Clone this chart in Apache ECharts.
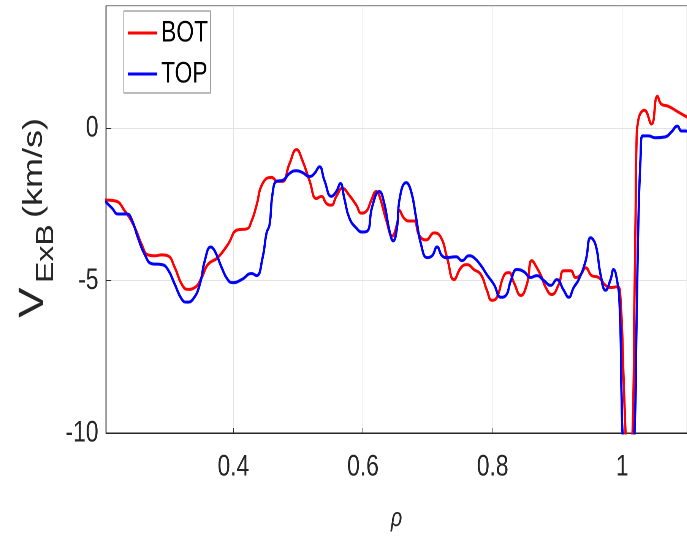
<!DOCTYPE html>
<html>
<head>
<meta charset="utf-8">
<script src="https://cdn.jsdelivr.net/npm/echarts@6/dist/echarts.min.js"></script>
<style>
html,body{margin:0;padding:0;background:#fff;overflow:hidden}
#wrap{width:687px;height:537px;overflow:hidden}
#c{width:904px;height:537px;transform:scaleX(0.76);transform-origin:0 0}
</style>
</head>
<body>
<div id="wrap"><div id="c"></div></div>
<script>
// ---- data (rho, V_ExB in km/s) ----
const seriesNames = ['BOT', 'TOP'];
const botData = [
[0.202,-2.36],[0.2174,-2.39],[0.2328,-2.73],[0.2482,-3.28],[0.2585,-3.82],[0.2681,-4.16],[0.2789,-4.19],[0.2897,-4.16],[0.2989,-4.19],[0.3097,-4.58],
[0.3205,-5.13],[0.3297,-5.29],[0.3405,-5.23],[0.3512,-4.90],[0.3605,-4.48],[0.3758,-4.25],[0.3912,-3.83],[0.4066,-3.34],[0.4205,-3.31],[0.4281,-3.05],
[0.4358,-2.53],[0.4451,-1.82],[0.4589,-1.62],[0.4682,-1.75],[0.4758,-1.75],[0.4866,-1.17],[0.4974,-0.71],[0.5066,-1.07],[0.5174,-1.72],[0.5282,-2.31],
[0.5358,-2.24],[0.5435,-2.47],[0.5512,-2.53],[0.5589,-2.24],[0.5682,-1.98],[0.5789,-2.21],[0.5897,-2.53],[0.5974,-2.79],[0.6051,-2.73],[0.6128,-2.37],
[0.6205,-2.08],[0.6251,-2.21],[0.6359,-3.02],[0.6451,-3.54],[0.6528,-3.12],[0.6559,-2.70],[0.6635,-2.96],[0.6712,-3.05],[0.6789,-3.05],[0.6866,-3.51],
[0.6974,-3.67],[0.7097,-3.44],[0.7205,-3.60],[0.7297,-4.25],[0.7405,-4.97],[0.7512,-4.58],[0.7605,-4.48],[0.7712,-4.64],[0.782,-4.81],[0.7912,-5.32],
[0.7989,-5.65],[0.8066,-5.55],[0.8174,-4.84],[0.8251,-4.74],[0.8328,-5.07],[0.8436,-5.49],[0.8528,-5.13],[0.8605,-4.35],[0.8682,-4.58],[0.8759,-4.90],
[0.882,-5.23],[0.8912,-5.46],[0.902,-5.13],[0.9097,-4.68],[0.9205,-4.68],[0.9282,-4.90],[0.9359,-4.81],[0.9436,-4.58],[0.9528,-4.84],[0.9636,-4.90],
[0.9743,-5.16],[0.9836,-5.23],[0.9928,-5.20],[0.9974,-5.65],[1.002,-8.15],[1.0051,-10.0],[1.0097,-12.0],[1.0159,-10.0],[1.0189,-5.55],[1.0205,-3.05],
[1.022,-0.52],[1.0251,0.29],[1.0343,0.58],[1.0451,0.13],[1.0543,1.04],[1.0605,0.78],[1.0712,0.71],[1.0866,0.52],[1.0974,0.39],[1.105,0.30]
];
const topData = [
[0.202,-2.40],[0.2128,-2.63],[0.222,-2.82],[0.2358,-2.82],[0.2435,-3.02],[0.2528,-3.60],[0.2635,-4.16],[0.2743,-4.45],[0.2897,-4.48],[0.2989,-4.64],
[0.3097,-5.13],[0.3205,-5.62],[0.3282,-5.71],[0.3374,-5.62],[0.3482,-5.13],[0.3559,-4.35],[0.3651,-3.90],[0.3712,-4.03],[0.382,-4.58],[0.3912,-4.97],
[0.3989,-5.07],[0.4128,-4.97],[0.4282,-4.77],[0.4358,-4.84],[0.4451,-4.25],[0.4512,-3.44],[0.4558,-3.18],[0.4605,-2.14],[0.4666,-1.75],[0.4758,-1.72],
[0.4866,-1.49],[0.4974,-1.40],[0.5066,-1.46],[0.5174,-1.59],[0.5251,-1.49],[0.5328,-1.27],[0.5405,-1.72],[0.5512,-2.24],[0.5589,-2.08],[0.5651,-1.82],
[0.5712,-2.31],[0.5789,-2.95],[0.5897,-3.28],[0.5989,-3.41],[0.6066,-3.38],[0.6143,-2.57],[0.6251,-2.08],[0.6328,-2.47],[0.6405,-3.34],[0.6466,-3.70],
[0.6528,-3.21],[0.6559,-2.40],[0.6666,-1.79],[0.6743,-2.08],[0.682,-2.95],[0.6897,-3.83],[0.6989,-4.25],[0.7066,-4.19],[0.7143,-3.90],[0.722,-4.19],
[0.7297,-4.25],[0.7436,-4.22],[0.7528,-4.35],[0.7635,-4.19],[0.7712,-4.25],[0.782,-4.51],[0.7912,-4.81],[0.802,-5.13],[0.8128,-5.55],[0.8205,-5.49],
[0.8282,-5.00],[0.8374,-4.64],[0.8482,-4.71],[0.8589,-4.90],[0.8682,-4.84],[0.8789,-5.00],[0.8897,-5.16],[0.8989,-4.97],[0.9097,-5.32],[0.9174,-5.55],
[0.9251,-5.23],[0.9328,-4.97],[0.9436,-4.35],[0.9512,-3.60],[0.9589,-3.83],[0.9666,-4.81],[0.9743,-5.32],[0.982,-4.97],[0.9866,-4.64],[0.9912,-4.90],
[0.9959,-5.78],[0.999,-8.8],[1.0005,-10.0],[1.0097,-12.0],[1.0189,-10.0],[1.022,-6.53],[1.0251,-2.95],[1.0282,-1.01],[1.0312,-0.26],[1.0405,-0.26],
[1.0512,-0.32],[1.0666,-0.29],[1.0758,-0.13],[1.0851,0.06],[1.0912,-0.10],[1.0974,-0.10],[1.105,-0.12]
];
const xRange = [0.2035, 1.1];
const yRange = [-10, 4];
const yTickStep = 5;
const yLabelParts = ['V', 'ExB', '(km/s)'];
const xLabel = 'ρ';

const FONT = "'Liberation Sans',Arial,Helvetica,sans-serif";
const AX = '#262626';

const chart = echarts.init(document.getElementById('c'), null, {renderer: 'canvas', devicePixelRatio: 2});
chart.setOption({
  backgroundColor: '#ffffff',
  animation: false,
  grid: {left: 139.5, right: -3, top: 6, bottom: 98, show: true, borderColor: AX, borderWidth: 1, containLabel: false},
  legend: {
    data: seriesNames, orient: 'vertical', left: 163, top: 11,
    backgroundColor: '#fff', borderColor: '#777', borderWidth: 1, borderRadius: 0,
    padding: [7, 3, 4, 5], itemGap: 11, itemWidth: 39, itemHeight: 3, icon: 'rect',
    textStyle: {fontSize: 30, fontFamily: FONT, color: '#000'}
  },
  xAxis: {
    type: 'value', min: xRange[0], max: xRange[1],
    name: xLabel, nameLocation: 'middle', nameGap: 73,
    nameTextStyle: {fontSize: 26, fontStyle: 'italic', fontFamily: FONT, color: AX},
    axisLine: {show: true, onZero: false, lineStyle: {color: AX, width: 1}},
    axisTick: {show: true, inside: true, length: 5, lineStyle: {color: AX}},
    axisLabel: {fontSize: 30, fontFamily: FONT, color: AX, margin: 19, showMinLabel: false, showMaxLabel: false},
    splitLine: {show: true, lineStyle: {color: '#e3e3e3', width: 1}}
  },
  yAxis: {
    type: 'value', min: yRange[0], max: yRange[1], interval: yTickStep,
    axisLine: {show: true, onZero: false, lineStyle: {color: AX, width: 1.3}},
    axisTick: {show: true, inside: true, length: 7, lineStyle: {color: AX}},
    axisLabel: {fontSize: 30, fontFamily: FONT, color: AX, margin: 10, showMaxLabel: false},
    splitLine: {show: true, lineStyle: {color: '#e3e3e3', width: 1}}
  },
  series: [
    {name: seriesNames[0], type: 'line', data: botData, showSymbol: false, smooth: 0.5, clip: true,
     lineStyle: {color: '#ff0000', width: 3}, itemStyle: {color: '#ff0000'}},
    {name: seriesNames[1], type: 'line', data: topData, showSymbol: false, smooth: 0.5, clip: true,
     lineStyle: {color: '#0000ff', width: 3}, itemStyle: {color: '#0000ff'}}
  ],
  graphic: [{
    type: 'group', x: 67, y: 318, rotation: Math.PI / 2, silent: true,
    children: [
      {type: 'text', x: 0, y: 0, style: {text: yLabelParts[0], fontSize: 46, fontFamily: FONT, fill: AX, align: 'left', verticalAlign: 'bottom'}},
      {type: 'text', x: 35, y: 10, style: {text: yLabelParts[1], fontSize: 32, fontFamily: FONT, fill: AX, align: 'left', verticalAlign: 'bottom'}},
      {type: 'text', x: 100, y: -4, style: {text: yLabelParts[2], fontSize: 36, fontFamily: FONT, fill: AX, align: 'left', verticalAlign: 'bottom'}}
    ]
  }]
});
</script>
</body>
</html>
